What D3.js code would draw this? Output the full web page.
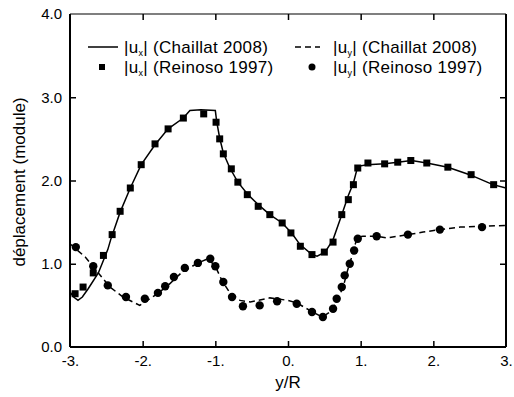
<!DOCTYPE html>
<html><head><meta charset="utf-8">
<script src="https://cdn.jsdelivr.net/npm/d3@7"></script>
<style>body{margin:0;background:#fff}svg{display:block}text{font-family:Arial,"Liberation Sans",sans-serif;fill:#000}</style>
</head><body><svg id="c" width="514" height="397"></svg>
<script>
const xTicks=[-3,-2,-1,0,1,2,3];
const xTickLabels=["-3.","-2.","-1.","0.","1.","2.","3."];
const yTicks=[0,1,2,3,4];
const yTickLabels=["0.0","1.0","2.0","3.0","4.0"];
const uxChaillat=[[-3.0,0.66],[-2.95,0.6],[-2.89,0.56],[-2.83,0.6],[-2.75,0.7],[-2.61,0.89],[-2.48,1.17],[-2.44,1.29],[-2.31,1.62],[-2.17,1.91],[-2.02,2.19],[-1.83,2.43],[-1.65,2.62],[-1.44,2.75],[-1.35,2.84],[-1.2,2.85],[-1.0,2.84],[-0.98,2.70],[-0.94,2.51],[-0.89,2.33],[-0.80,2.15],[-0.69,1.98],[-0.55,1.83],[-0.41,1.71],[-0.25,1.59],[-0.08,1.49],[0.05,1.37],[0.165,1.23],[0.33,1.11],[0.40,1.09],[0.51,1.14],[0.62,1.29],[0.74,1.59],[0.83,1.82],[0.90,1.97],[0.96,2.17],[1.09,2.19],[1.33,2.20],[1.51,2.22],[1.70,2.24],[1.91,2.21],[2.20,2.16],[2.50,2.07],[2.82,1.95],[3.0,1.91]];
const uyChaillat=[[-3.0,1.24],[-2.79,1.08],[-2.61,0.89],[-2.45,0.72],[-2.27,0.60],[-2.04,0.50],[-1.83,0.62],[-1.65,0.74],[-1.47,0.89],[-1.24,1.01],[-1.10,1.06],[-1.0,0.97],[-0.91,0.80],[-0.80,0.65],[-0.66,0.56],[-0.52,0.54],[-0.25,0.59],[0.0,0.56],[0.12,0.53],[0.30,0.44],[0.47,0.36],[0.61,0.44],[0.69,0.59],[0.76,0.72],[0.81,0.89],[0.85,1.01],[0.90,1.14],[0.93,1.25],[0.96,1.32],[1.03,1.33],[1.22,1.33],[1.36,1.31],[1.65,1.35],[1.86,1.38],[2.09,1.41],[2.37,1.44],[2.64,1.45],[3.0,1.46]];
const uxReinoso=[[-2.93,0.64],[-2.82,0.72],[-2.68,0.89],[-2.54,1.10],[-2.42,1.35],[-2.31,1.63],[-2.17,1.91],[-2.02,2.19],[-1.83,2.44],[-1.65,2.62],[-1.44,2.75],[-1.16,2.80],[-0.99,2.70],[-0.94,2.50],[-0.89,2.32],[-0.78,2.14],[-0.69,1.98],[-0.56,1.83],[-0.41,1.69],[-0.25,1.59],[-0.08,1.49],[0.04,1.37],[0.17,1.21],[0.33,1.11],[0.50,1.14],[0.62,1.26],[0.74,1.59],[0.83,1.77],[0.90,1.95],[0.96,2.15],[1.10,2.21],[1.33,2.20],[1.51,2.22],[1.69,2.24],[1.91,2.21],[2.20,2.16],[2.52,2.07],[2.83,1.95]];
const uyReinoso=[[-2.92,1.20],[-2.68,0.97],[-2.48,0.74],[-2.23,0.60],[-1.97,0.58],[-1.79,0.65],[-1.69,0.73],[-1.57,0.84],[-1.42,0.95],[-1.24,1.01],[-1.07,1.06],[-1.0,0.97],[-0.89,0.78],[-0.77,0.60],[-0.62,0.49],[-0.39,0.50],[-0.15,0.55],[0.12,0.52],[0.33,0.42],[0.48,0.36],[0.62,0.46],[0.67,0.58],[0.74,0.72],[0.78,0.86],[0.85,1.00],[0.91,1.16],[0.96,1.30],[1.22,1.33],[1.65,1.35],[2.09,1.41],[2.67,1.44]];

const svg=d3.select("#c");
const L=70,R=506,T=14,B=347;
const x=d3.scaleLinear().domain([-3,3]).range([L,R]);
const y=d3.scaleLinear().domain([0,4]).range([B,T]);
const fs=15, fl=17;
const FF="Arial, Liberation Sans, sans-serif";

const inner=[-2,-1,0,1,2];
const innerY=[1,2,3];
svg.append("g").attr("transform",`translate(0,${B})`)
  .call(d3.axisBottom(x).tickValues(xTicks).tickFormat((d,i)=>xTickLabels[i]).tickSize(0).tickPadding(8))
  .call(g=>{g.select(".domain").remove();g.selectAll("text").attr("font-size",fs).attr("font-family",FF);});
svg.append("g").attr("transform",`translate(0,${B})`)
  .call(d3.axisTop(x).tickValues(inner).tickSize(6).tickFormat(""))
  .call(g=>{g.select(".domain").remove();g.selectAll("line").attr("stroke-width",1.5);});
svg.append("g").attr("transform",`translate(0,${T})`)
  .call(d3.axisBottom(x).tickValues(inner).tickSize(6).tickFormat(""))
  .call(g=>{g.select(".domain").remove();g.selectAll("line").attr("stroke-width",1.5);});
svg.append("g").attr("transform",`translate(${L},0)`)
  .call(d3.axisLeft(y).tickValues(yTicks).tickFormat((d,i)=>yTickLabels[i]).tickSize(0).tickPadding(8))
  .call(g=>{g.select(".domain").remove();g.selectAll("text").attr("font-size",fs).attr("font-family",FF);});
svg.append("g").attr("transform",`translate(${L},0)`)
  .call(d3.axisRight(y).tickValues(innerY).tickSize(6).tickFormat(""))
  .call(g=>{g.select(".domain").remove();g.selectAll("line").attr("stroke-width",1.5);});
svg.append("g").attr("transform",`translate(${R},0)`)
  .call(d3.axisLeft(y).tickValues(innerY).tickSize(6).tickFormat(""))
  .call(g=>{g.select(".domain").remove();g.selectAll("line").attr("stroke-width",1.5);});

svg.append("line").attr("x1",L).attr("x2",R).attr("y1",T).attr("y2",T).attr("stroke","#000").attr("stroke-width",1.2);
svg.append("line").attr("x1",L).attr("x2",R).attr("y1",B).attr("y2",B).attr("stroke","#000").attr("stroke-width",2);
svg.append("line").attr("x1",L).attr("x2",L).attr("y1",T).attr("y2",B).attr("stroke","#000").attr("stroke-width",2);
svg.append("line").attr("x1",R).attr("x2",R).attr("y1",T).attr("y2",B).attr("stroke","#000").attr("stroke-width",2);

svg.append("text").attr("x",x(0)).attr("y",388).attr("text-anchor","middle").attr("font-size",fl).text("y/R");
svg.append("text").attr("transform",`translate(25,182) rotate(-90)`).attr("text-anchor","middle").attr("font-size",fl).text("déplacement (module)");

const line=d3.line().x(d=>x(d[0])).y(d=>y(d[1]));
svg.append("path").attr("d",line(uxChaillat)).attr("fill","none").attr("stroke","#000").attr("stroke-width",1.5);
svg.append("path").attr("d",line(uyChaillat)).attr("fill","none").attr("stroke","#000").attr("stroke-width",1.5).attr("stroke-dasharray","6,4");
svg.append("g").selectAll("rect").data(uxReinoso).join("rect")
  .attr("x",d=>x(d[0])-3.5).attr("y",d=>y(d[1])-3.5).attr("width",7).attr("height",7).attr("fill","#000");
svg.append("g").selectAll("circle").data(uyReinoso).join("circle")
  .attr("cx",d=>x(d[0])).attr("cy",d=>y(d[1])).attr("r",4.2).attr("fill","#000");

const leg=svg.append("g");
function label(g,xp,yp,sub,ref){
  const t=g.append("text").attr("x",xp).attr("y",yp).attr("font-size",fl).attr("letter-spacing",0.3);
  t.append("tspan").text("|u");
  t.append("tspan").attr("font-size",9).attr("dy",3).text(sub);
  t.append("tspan").attr("dy",-3).text("| ("+ref+")");
}
const r1=47,r2=67;
leg.append("line").attr("x1",88).attr("x2",118).attr("y1",r1).attr("y2",r1).attr("stroke","#000").attr("stroke-width",1.5);
label(leg,124,r1+6,"x","Chaillat 2008");
leg.append("line").attr("x1",295).attr("x2",320).attr("y1",r1).attr("y2",r1).attr("stroke","#000").attr("stroke-width",1.5).attr("stroke-dasharray","6,4");
label(leg,333,r1+6,"y","Chaillat 2008");
leg.append("rect").attr("x",99).attr("y",r2-3).attr("width",6).attr("height",6).attr("fill","#000");
label(leg,124,r2+6,"x","Reinoso 1997");
leg.append("circle").attr("cx",312).attr("cy",r2).attr("r",3.5).attr("fill","#000");
label(leg,333,r2+6,"y","Reinoso 1997");
</script></body></html>
